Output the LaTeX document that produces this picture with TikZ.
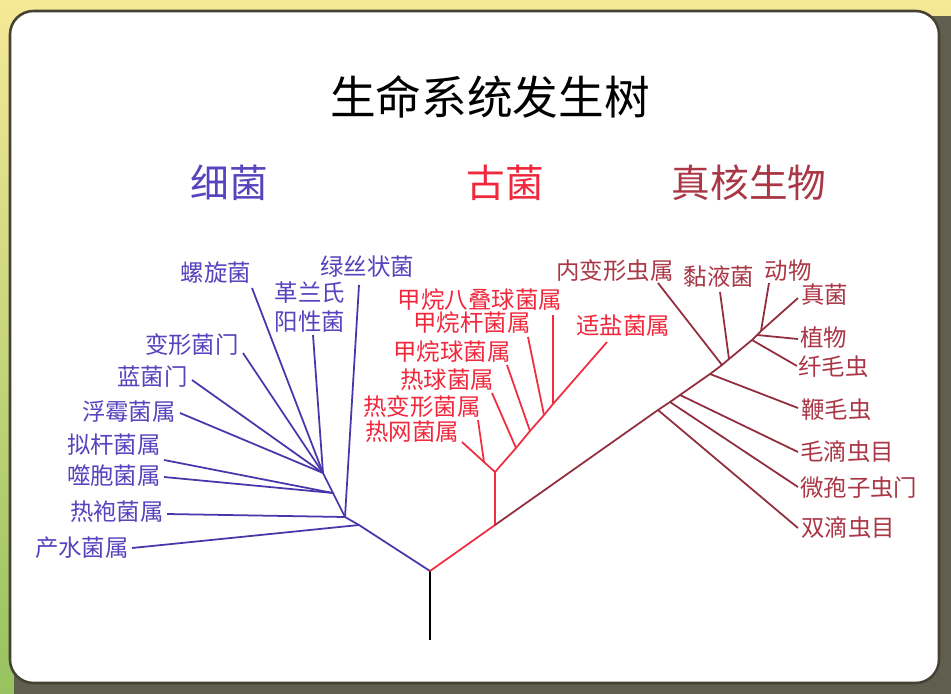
\documentclass[tikz,border=0pt]{standalone}
\usepackage{fontspec}
\newfontfamily\cjk{Noto Sans CJK SC}
\definecolor{bgtop}{RGB}{246,232,150}
\definecolor{bgbot}{RGB}{150,195,95}
\definecolor{shadowc}{RGB}{95,95,80}
\definecolor{framec}{RGB}{70,65,50}
\definecolor{bline}{RGB}{72,55,170}
\definecolor{btext}{RGB}{88,66,190}
\definecolor{rline}{RGB}{240,45,65}
\definecolor{rtext}{RGB}{240,40,60}
\definecolor{eline}{RGB}{145,45,60}
\definecolor{etext}{RGB}{170,55,70}
\begin{document}
\begin{tikzpicture}[x=0.03cm,y=-0.03cm,
  bl/.style={draw=bline,line width=1.5pt},
  rl/.style={draw=rline,line width=1.5pt},
  el/.style={draw=eline,line width=1.5pt},
  lbl/.style={font=\cjk\fontsize{20}{24.5}\selectfont,inner sep=0pt},
  lblB/.style={lbl,text=btext},
  lblR/.style={lbl,text=rtext},
  lblE/.style={lbl,text=etext},
  head/.style={font=\cjk\fontsize{33}{36}\selectfont,inner sep=0pt}
]
\useasboundingbox (0,0) rectangle (951,693);
\clip (0,0) rectangle (951,693);
\shade[top color=bgtop,bottom color=bgbot] (0,0) rectangle (951,693);
\fill[shadowc,rounded corners=20pt] (14,16) rectangle (975,720);
\filldraw[fill=white,draw=framec,line width=2.2pt,rounded corners=20pt] (10,11) rectangle (939,683);

% titles
\node[font=\cjk\fontsize{39}{44}\selectfont,inner sep=0pt] (title) at (490,97) {生命系统发生树};
\node[head,text=btext] (hB) at (229,183) {细菌};
\node[head,text=rtext] (hR) at (505,183) {古菌};
\node[head,text=etext] (hE) at (749,183) {真核生物};

% internal points
\coordinate (root) at (430,640);
\coordinate (r0) at (430,571);
\coordinate (b1) at (359,525);
\coordinate (bA) at (345,517);
\coordinate (bB) at (333,493);
\coordinate (bC) at (323,473);
\coordinate (aR) at (495,525);
\coordinate (aN) at (495,472);
\coordinate (aT) at (484,462);
\coordinate (a1) at (516,448);
\coordinate (a2) at (530,431);
\coordinate (a3) at (544,415);
\coordinate (a4) at (553,404);
\coordinate (e1) at (658,410);
\coordinate (e2) at (670,402);
\coordinate (e3) at (680,395);
\coordinate (e4) at (710,374);
\coordinate (e5) at (722,365);
\coordinate (e6) at (729,359);
\coordinate (e7) at (752,340);
\coordinate (e8) at (757,335);
\coordinate (eE) at (761,331);

% leaf ends
\coordinate (tLuo) at (252,288);
\coordinate (tLv) at (359,285);
\coordinate (tGe) at (313,335);
\coordinate (tBx) at (243,353);
\coordinate (tLan) at (192,380);
\coordinate (tFu) at (180,413);
\coordinate (tNi) at (164,460);
\coordinate (tShi) at (164,477);
\coordinate (tRe) at (167,514);
\coordinate (tChan) at (132,548);
\coordinate (tRw) at (462,442);
\coordinate (tRbx) at (478,420);
\coordinate (tRq) at (492,393);
\coordinate (tJq) at (507,365);
\coordinate (tJg) at (528,337);
\coordinate (tJb) at (553,315);
\coordinate (tSy) at (607,342);
\coordinate (tNb) at (658,283);
\coordinate (tNy) at (720,292);
\coordinate (tDw) at (769,283);
\coordinate (tZj) at (798,298);
\coordinate (tZw) at (798,339);
\coordinate (tXm) at (797,366);
\coordinate (tBm) at (798,408);
\coordinate (tMd) at (798,452);
\coordinate (tWb) at (798,487);
\coordinate (tSd) at (798,528);

% labels - bacteria
\node[lblB] (nLuo) at (216,273) {螺旋菌};
\node[lblB] (nLv) at (367,267) {绿丝状菌};
\node[lblB,align=center] (nGe) at (310,307) {革兰氏\\阳性菌};
\node[lblB,anchor=east] (nBx) at (239,345) {变形菌门};
\node[lblB,anchor=east] (nLan) at (188,377) {蓝菌门};
\node[lblB,anchor=east] (nFu) at (176,412) {浮霉菌属};
\node[lblB,anchor=east] (nNi) at (161,445) {拟杆菌属};
\node[lblB,anchor=east] (nShi) at (161,476) {噬胞菌属};
\node[lblB,anchor=east] (nRe) at (164,512) {热袍菌属};
\node[lblB,anchor=east] (nChan) at (129,548) {产水菌属};

% labels - archaea
\node[lblR] (nJb) at (480,300) {甲烷八叠球菌属};
\node[lblR] (nJg) at (472,323) {甲烷杆菌属};
\node[lblR] (nJq) at (452,352) {甲烷球菌属};
\node[lblR] (nRq) at (447,380) {热球菌属};
\node[lblR] (nRbx) at (422,407) {热变形菌属};
\node[lblR] (nRw) at (412,432) {热网菌属};
\node[lblR] (nSy) at (623,326) {适盐菌属};

% labels - eukaryotes
\node[lblE] (nNb) at (615,271) {内变形虫属};
\node[lblE] (nNy) at (719,277) {黏液菌};
\node[lblE] (nDw) at (788,271) {动物};
\node[lblE,anchor=west] (nZj) at (801,295) {真菌};
\node[lblE,anchor=west] (nZw) at (800,338) {植物};
\node[lblE,anchor=west] (nXm) at (798,367) {纤毛虫};
\node[lblE,anchor=west] (nBm) at (801,410) {鞭毛虫};
\node[lblE,anchor=west] (nMd) at (800,452) {毛滴虫目};
\node[lblE,anchor=west] (nWb) at (800,488) {微孢子虫门};
\node[lblE,anchor=west] (nSd) at (801,528) {双滴虫目};

% tree
\draw[line width=1.5pt,black] (root) -- (r0);
\draw[bl] (r0) -- (b1) -- (bA) -- (bB) -- (bC);
\draw[bl] (b1) -- (tChan);
\draw[bl] (bA) -- (tRe);
\draw[bl] (bA) -- (tLv);
\draw[bl] (bB) -- (tNi);
\draw[bl] (bB) -- (tShi);
\draw[bl] (bC) -- (tFu);
\draw[bl] (bC) -- (tLan);
\draw[bl] (bC) -- (tBx);
\draw[bl] (bC) -- (tLuo);
\draw[bl] (bC) -- (tGe);

\draw[rl] (r0) -- (aR) -- (aN) -- (a1) -- (a2) -- (a3) -- (a4) -- (tSy);
\draw[rl] (aN) -- (aT) -- (tRw);
\draw[rl] (aT) -- (tRbx);
\draw[rl] (a1) -- (tRq);
\draw[rl] (a2) -- (tJq);
\draw[rl] (a3) -- (tJg);
\draw[rl] (a4) -- (tJb);

\draw[el] (aR) -- (e1) -- (e2) -- (e3) -- (e4) -- (e5) -- (e6) -- (e7) -- (e8) -- (eE);
\draw[el] (e1) -- (tSd);
\draw[el] (e2) -- (tWb);
\draw[el] (e3) -- (tMd);
\draw[el] (e4) -- (tBm);
\draw[el] (e5) -- (tNb);
\draw[el] (e6) -- (tNy);
\draw[el] (e7) -- (tXm);
\draw[el] (e8) -- (tZw);
\draw[el] (eE) -- (tZj);
\draw[el] (eE) -- (tDw);
\end{tikzpicture}
\end{document}
